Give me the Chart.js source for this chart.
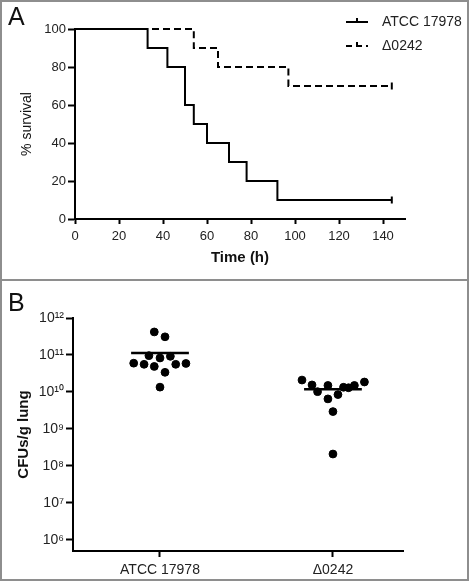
<!DOCTYPE html>
<html>
<head>
<meta charset="utf-8">
<script src="https://cdn.jsdelivr.net/npm/chart.js"></script>
<style>
  body { margin: 0; background: #fff; }
  .panel { position: absolute; left: 0; width: 469px; }
  #wrapA { top: 0; height: 278px; }
  #wrapB { top: 282px; height: 297px; }
  #frame { position: absolute; left: 0; top: 0; width: 469px; height: 581px; box-sizing: border-box; border: 2px solid #8e8e8e; pointer-events: none; }
  #divider { position: absolute; left: 0; top: 279px; width: 469px; height: 2px; background: #8e8e8e; }
  .letter { position: absolute; left: 8px; font: 25px 'Liberation Sans', Arial, sans-serif; line-height: 25px; color: #111; }
</style>
</head>
<body>
<div class="panel" id="wrapA"><canvas id="survivalChart"></canvas></div>
<div class="panel" id="wrapB"><canvas id="cfuChart"></canvas></div>
<div id="frame"></div>
<div id="divider"></div>
<div class="letter" style="top:4px">A</div>
<div class="letter" style="top:290px">B</div>

<script>
// Panel A - Kaplan-Meier survival
const seriesNames = ['ATCC 17978', '\u03940242'];
const atccTime = [0, 33, 42, 50, 54, 60, 70, 78, 92, 144];
const atccSurvival = [100, 90, 80, 60, 50, 40, 30, 20, 10, 10];
const mutantTime = [0, 54, 65, 97, 144];
const mutantSurvival = [100, 90, 80, 70, 70];

// Panel B - CFUs per g lung
const groups = ['ATCC 17978', '\u03940242'];
const atccCFU = [4.2e11, 3.1e11, 9.6e10, 8.3e10, 9.2e10, 6.0e10, 5.6e10, 4.9e10, 5.6e10, 5.9e10, 3.4e10, 1.35e10];
const mutantCFU = [2.1e10, 1.55e10, 1.02e10, 1.5e10, 6.5e9, 8.5e9, 1.34e10, 1.3e10, 1.5e10, 1.86e10, 2.95e9, 2.1e8];
const meanCFU = [1.13e11, 1.18e10];
// horizontal scatter of the dots inside each column
const atccJitter = [-0.033, 0.029, -0.064, 0, 0.06, -0.152, -0.092, -0.033, 0.091, 0.15, 0.029, 0];
const mutantJitter = [-0.179, -0.121, -0.089, -0.029, -0.029, 0.029, 0.061, 0.09, 0.124, 0.182, 0, 0];
const yTickExponents = [6, 7, 8, 9, 10, 11, 12];

Chart.defaults.font.family = "'Liberation Sans', Arial, sans-serif";
Chart.defaults.color = '#222';

const FONT = "'Liberation Sans', Arial, sans-serif";
const supDigits = {'0':'\u2070','1':'\u00b9','2':'\u00b2','3':'\u00b3','4':'\u2074','5':'\u2075','6':'\u2076','7':'\u2077','8':'\u2078','9':'\u2079'};

function toPoints(xs, ys) {
  return xs.map((x, i) => ({x: x, y: ys[i]}));
}

function axisStyle(tickLen) {
  return {
    grid: { display: true, drawOnChartArea: false, drawTicks: true, tickLength: tickLen, tickWidth: 2, tickColor: '#000' },
    border: { display: true, color: '#000', width: 2 }
  };
}

// legend drawn inside panel A, top right
const survivalLegend = {
  id: 'survivalLegend',
  afterDraw(chart) {
    const ctx = chart.ctx;
    const r = chart.chartArea.right;
    const t = chart.chartArea.top;
    const rows = [t - 7, t + 17];
    ctx.save();
    ctx.strokeStyle = '#000';
    ctx.lineWidth = 2;
    rows.forEach((y, i) => {
      ctx.setLineDash(i === 0 ? [] : [6, 4]);
      ctx.beginPath();
      ctx.moveTo(r - 59, y);
      ctx.lineTo(r - 37, y);
      ctx.stroke();
      ctx.setLineDash([]);
      ctx.beginPath();
      ctx.moveTo(r - 48, y);
      ctx.lineTo(r - 48, y - 4);
      ctx.stroke();
      ctx.fillStyle = '#222';
      ctx.font = '14px ' + FONT;
      ctx.textBaseline = 'middle';
      ctx.fillText(seriesNames[i], r - 23, y);
    });
    ctx.restore();
  }
};

function censorRadius(n) {
  return ctx => (ctx.dataIndex === n - 1 ? 3.5 : 0);
}

new Chart(document.getElementById('survivalChart'), {
  type: 'line',
  data: {
    datasets: [{
      label: seriesNames[0],
      data: toPoints(atccTime, atccSurvival),
      borderColor: '#000',
      borderWidth: 2,
      stepped: 'before',
      fill: false,
      clip: false,
      pointStyle: 'line',
      rotation: 90,
      pointRadius: censorRadius(atccTime.length),
      pointBorderWidth: 2,
      pointBorderColor: '#000'
    }, {
      label: seriesNames[1],
      data: toPoints(mutantTime, mutantSurvival),
      borderColor: '#000',
      borderWidth: 2,
      borderDash: [7, 4],
      stepped: 'before',
      fill: false,
      clip: false,
      pointStyle: 'line',
      rotation: 90,
      pointRadius: censorRadius(mutantTime.length),
      pointBorderWidth: 2,
      pointBorderColor: '#000'
    }]
  },
  options: {
    responsive: true,
    maintainAspectRatio: false,
    animation: false,
    layout: { padding: { top: 29, right: 64, left: 0, bottom: 0 } },
    plugins: { legend: { display: false }, tooltip: { enabled: false } },
    scales: {
      x: Object.assign(axisStyle(5), {
        type: 'linear',
        min: 0,
        max: 150,
        ticks: { stepSize: 20, includeBounds: false, padding: 5, color: '#222', font: { size: 13 } },
        title: { display: true, text: 'Time (h)', color: '#111', font: { size: 15, weight: 'bold' }, padding: { top: 0, bottom: 11 } },
        afterFit(scale) { scale.height = 59; }
      }),
      y: Object.assign(axisStyle(7), {
        min: 0,
        max: 100,
        ticks: { stepSize: 20, padding: 2, color: '#222', font: { size: 13 } },
        title: { display: true, text: '% survival', color: '#111', font: { size: 14 }, padding: { top: 19, bottom: 0 } },
        afterFit(scale) { scale.width = 75; }
      })
    }
  },
  plugins: [survivalLegend]
});

const halfBar = 0.167;

new Chart(document.getElementById('cfuChart'), {
  type: 'scatter',
  data: {
    datasets: [{
      label: groups[0],
      data: atccCFU.map((v, i) => ({x: 0 + atccJitter[i], y: v})),
      backgroundColor: '#000',
      borderColor: '#000',
      pointRadius: 3.9,
      clip: false
    }, {
      label: groups[1],
      data: mutantCFU.map((v, i) => ({x: 1 + mutantJitter[i], y: v})),
      backgroundColor: '#000',
      borderColor: '#000',
      pointRadius: 3.9,
      clip: false
    }, {
      label: 'mean ' + groups[0],
      data: [{x: 0 - halfBar, y: meanCFU[0]}, {x: 0 + halfBar, y: meanCFU[0]}],
      showLine: true,
      borderColor: '#000',
      borderWidth: 2.5,
      pointRadius: 0,
      clip: false
    }, {
      label: 'mean ' + groups[1],
      data: [{x: 1 - halfBar, y: meanCFU[1]}, {x: 1 + halfBar, y: meanCFU[1]}],
      showLine: true,
      borderColor: '#000',
      borderWidth: 2.5,
      pointRadius: 0,
      clip: false
    }]
  },
  options: {
    responsive: true,
    maintainAspectRatio: false,
    animation: false,
    layout: { padding: { top: 36, right: 66, left: 0, bottom: 0 } },
    plugins: { legend: { display: false }, tooltip: { enabled: false } },
    scales: {
      x: Object.assign(axisStyle(6), {
        type: 'linear',
        min: -0.503,
        max: 1.405,
        afterBuildTicks(scale) { scale.ticks = groups.map((g, i) => ({value: i})); },
        ticks: { autoSkip: false, maxRotation: 0, padding: 5, color: '#222', font: { size: 14 },
          callback: v => groups[v] },
        afterFit(scale) { scale.height = 28; }
      }),
      y: Object.assign(axisStyle(7), {
        type: 'logarithmic',
        min: Math.pow(10, 5.7),
        max: 1e12,
        afterBuildTicks(scale) { scale.ticks = yTickExponents.map(e => ({value: Math.pow(10, e)})); },
        ticks: { autoSkip: false, padding: 2, color: '#222', font: { size: 14 },
          callback: v => {
            const e = String(Math.round(Math.log10(v)));
            return '10' + e.split('').map(d => supDigits[d]).join('');
          } },
        title: { display: true, text: 'CFUs/g lung', color: '#111', font: { size: 15, weight: 'bold' }, padding: { top: 15, bottom: 0 } },
        afterFit(scale) { scale.width = 73; }
      })
    }
  }
});
</script>
</body>
</html>
